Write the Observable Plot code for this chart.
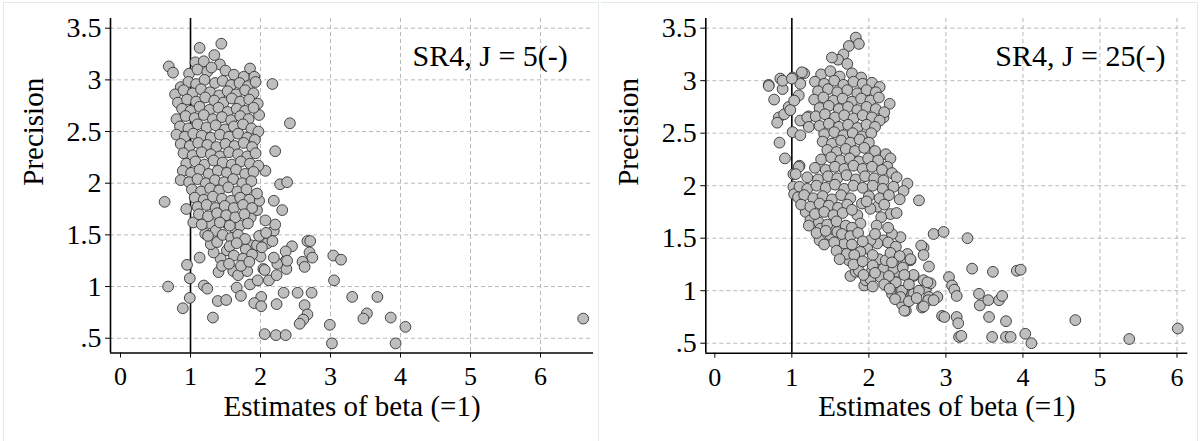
<!DOCTYPE html>
<html><head><meta charset="utf-8">
<script src="https://cdn.jsdelivr.net/npm/d3@7"></script>
<script src="https://cdn.jsdelivr.net/npm/@observablehq/plot@0.6"></script>
<style>
body{margin:0;background:#fff;}
#wrap{position:relative;width:1203px;height:441px;overflow:hidden;background:#fff;}
.panel{position:absolute;top:0;}
.panel svg, .panel svg text, .panel svg g{font-family:'Liberation Serif','Times New Roman',Times,serif !important;}
.border{position:absolute;border:1px solid #e3eaed;border-bottom:none;}
</style></head><body><div id="wrap"></div>
<script>
const yTicks = [0.5, 1, 1.5, 2, 2.5, 3, 3.5];
const yTickLabels = [".5", "1", "1.5", "2", "2.5", "3", "3.5"];
const xTicks = [0, 1, 2, 3, 4, 5, 6];
const xTickLabels = ["0", "1", "2", "3", "4", "5", "6"];
const xGridValues = [2, 3, 4, 5, 6];
const panelTitles = ["SR4, J = 5(-)", "SR4, J = 25(-)"];
const xLabel = "Estimates of beta (=1)";
const yLabel = "Precision";
const trueBeta = 1;

// [estimate of beta, precision]
const sr4J5 = [
[0.69,3.13],[0.75,3.07],[1.13,3.31],[1.44,3.35],[1.07,3.17],[1.19,3.18],[1.34,3.24],[1.42,3.15],[1.85,3.11],[1.91,3.03],[2.17,2.96],[2.42,2.58],[2.21,2.31],[2.07,2.12],[2.28,1.99],[2.38,2.01],[1.98,2.66],
[0.63,1.82],[0.94,1.75],[1.04,1.62],[1.13,1.28],[0.95,1.21],[0.99,1.08],[0.68,1.0],[1.19,1.01],[1.24,0.98],[0.99,0.89],[0.89,0.79],[1.32,0.70],[1.40,1.14],[1.39,0.86],[1.51,0.87],[1.66,0.99],[1.72,0.91],[1.61,1.15],[1.68,1.11],[1.81,1.15],[1.85,1.02],[2.01,0.90],[1.91,0.84],[2.01,0.81],[1.96,1.06],[2.04,1.17],[2.12,1.06],[2.23,1.11],[2.23,0.83],[2.33,0.94],[2.36,1.25],[2.37,1.17],[2.24,1.22],[2.06,0.54],[2.22,0.53],[2.36,0.53],[2.53,0.94],[2.73,0.94],[2.63,0.82],[2.67,0.73],[2.61,0.68],[2.56,0.64],[2.99,0.63],[3.02,0.45],[3.05,1.06],[3.04,1.30],[3.15,1.26],[2.67,1.44],[2.71,1.44],[2.70,1.33],[2.74,1.28],[2.60,1.24],[2.63,1.19],[2.45,1.39],[2.36,1.34],[2.38,1.25],[2.31,1.74],[2.19,1.83],[3.31,0.90],[3.67,0.90],[3.52,0.74],[3.47,0.69],[3.86,0.70],[4.07,0.61],[3.93,0.45],[6.61,0.69],
[2.19,1.54],[2.21,1.60],[2.07,1.64],[2.19,1.28],[1.86,1.40],[1.79,1.36],[2.00,1.29],[2.10,1.42],[2.17,1.44],[1.95,1.40],[2.06,1.16],[1.52,1.35],[1.43,1.27],[1.33,1.33],[1.29,1.41],[1.38,1.43],[1.21,1.51],[1.29,1.61],[1.36,1.54],[1.52,1.61],[1.62,1.57],[1.71,1.59],[1.86,1.67],[1.95,1.74],[1.98,1.83],[1.95,1.90],
[0.98,3.06],[1.10,3.10],[1.24,3.08],[1.30,3.12],[1.50,3.09],[1.62,3.05],[1.76,3.03],
[0.86,2.93],[0.97,2.98],[1.08,2.96],[1.20,3.00],[1.35,2.97],[1.46,2.99],[1.58,2.95],[1.70,2.97],[1.82,2.94],[1.93,2.98],
[0.78,2.86],[0.90,2.90],[1.03,2.87],[1.15,2.91],[1.28,2.88],[1.41,2.85],[1.53,2.89],[1.65,2.86],[1.78,2.90],[1.90,2.87],
[0.82,2.78],[0.95,2.81],[1.08,2.79],[1.21,2.83],[1.34,2.80],[1.47,2.78],[1.59,2.82],[1.71,2.79],[1.84,2.81],[1.96,2.77],
[0.88,2.72],[1.00,2.70],[1.13,2.74],[1.27,2.71],[1.40,2.73],[1.53,2.69],[1.66,2.72],[1.78,2.70],[1.90,2.73],
[0.80,2.62],[0.93,2.65],[1.06,2.63],[1.19,2.66],[1.32,2.62],[1.45,2.64],[1.58,2.61],[1.71,2.65],[1.83,2.62],
[0.85,2.55],[0.97,2.53],[1.10,2.57],[1.23,2.54],[1.36,2.56],[1.49,2.52],[1.62,2.55],[1.75,2.57],[1.87,2.53],[1.97,2.50],
[0.80,2.47],[0.92,2.45],[1.04,2.48],[1.16,2.46],[1.29,2.44],[1.42,2.47],[1.55,2.45],[1.68,2.48],[1.81,2.44],[1.92,2.42],
[0.86,2.38],[0.99,2.36],[1.11,2.39],[1.24,2.37],[1.37,2.35],[1.50,2.38],[1.63,2.36],[1.76,2.39],[1.88,2.35],
[0.90,2.29],[1.03,2.27],[1.16,2.30],[1.29,2.28],[1.42,2.26],[1.55,2.30],[1.68,2.28],[1.81,2.26],[1.93,2.29],
[0.94,2.19],[1.07,2.21],[1.20,2.18],[1.33,2.22],[1.46,2.20],[1.59,2.18],[1.72,2.21],[1.85,2.19],[1.97,2.17],
[0.89,2.12],[1.01,2.10],[1.13,2.13],[1.26,2.09],[1.39,2.12],[1.52,2.10],[1.65,2.13],[1.78,2.09],[1.90,2.11],
[0.86,2.03],[0.98,2.01],[1.10,2.04],[1.22,2.00],[1.35,2.03],[1.48,2.01],[1.61,2.04],[1.74,2.00],[1.87,2.02],
[1.02,1.94],[1.15,1.92],[1.28,1.95],[1.41,1.93],[1.54,1.96],[1.67,1.92],[1.80,1.94],
[1.06,1.86],[1.19,1.84],[1.32,1.87],[1.45,1.85],[1.58,1.83],[1.71,1.86],[1.84,1.84],
[1.10,1.77],[1.23,1.79],[1.36,1.76],[1.49,1.78],[1.62,1.76],[1.75,1.79],[1.88,1.76],
[1.12,1.70],[1.25,1.68],[1.38,1.71],[1.51,1.69],[1.64,1.67],[1.77,1.70],
[1.16,1.60],[1.42,1.62],[1.56,1.59],[1.82,1.61],
[1.25,1.49],[1.46,1.50],[1.58,1.47],[1.68,1.50],[1.78,1.46],[1.98,1.49],[2.08,1.52],
[1.56,1.39],[1.66,1.42],[2.02,1.38],
[1.62,1.30],[1.75,1.27],[1.88,1.31],[1.45,1.20],[1.55,1.22],[1.72,1.20],[1.84,1.24]
];

const sr4J25 = [
[1.83,3.41],[1.87,3.35],[1.74,3.33],[1.67,3.25],[1.60,3.20],[1.52,3.22],[1.72,3.16],
[0.70,2.96],[0.85,3.02],[0.88,2.92],[1.01,3.03],[1.11,2.97],[1.16,3.07],[0.77,2.82],[0.83,2.65],[0.81,2.60],[0.90,2.68],[0.96,2.75],[1.01,2.51],[0.84,2.41],[0.91,2.26],[1.11,2.48],[1.16,2.62],[1.22,2.66],[1.10,2.19],[1.02,2.11],[1.02,1.99],[2.27,2.78],[2.19,2.65],[2.22,2.30],[2.28,2.26],[2.24,2.18],[2.50,2.02],[2.45,1.95],[2.65,1.86],
[0.70,2.95],[0.88,3.00],[1.00,3.02],[1.13,3.08],[1.09,2.86],[1.03,2.81],[0.98,2.72],[1.11,2.62],[1.20,2.65],[1.22,2.56],[1.09,2.18],[1.05,2.11],
[1.03,1.92],[1.18,1.75],[1.24,1.67],[1.35,1.65],[1.37,1.59],[1.36,1.48],[1.50,1.53],[1.52,1.59],[1.59,1.56],[1.68,1.45],[1.68,1.32],[1.74,1.29],[1.71,1.35],[1.76,1.14],[1.83,1.18],[1.87,1.19],[1.94,1.05],[1.96,1.10],[2.02,1.11],[2.04,1.19],[2.13,1.30],[2.19,1.21],[2.15,1.13],[2.22,1.29],[2.30,0.97],[2.41,1.00],[2.43,0.87],[2.48,0.81],[2.37,1.18],[2.35,1.08],[2.32,1.21],[2.56,0.97],[2.58,1.14],[2.69,0.84],[2.74,1.02],[2.78,0.94],[2.71,1.10],[2.80,1.07],[2.89,0.94],[2.84,1.54],[2.97,1.56],[3.04,1.13],[3.08,1.05],[2.95,0.76],[3.14,0.75],[3.17,0.56],[2.41,1.51],[2.30,1.54],[2.19,1.48],[2.11,1.45],[2.54,1.29],[2.45,1.26],[2.50,1.35],[2.71,1.41],[2.78,1.23],[2.28,1.73],[2.11,1.80],[2.02,1.78],[1.91,1.83],[1.85,1.72],[1.89,1.64],[2.02,1.48],[1.98,1.40],[1.89,1.37],[1.81,1.34],
[3.28,1.50],[3.34,1.21],[3.61,1.18],[3.92,1.19],[3.97,1.20],[3.11,1.01],[3.14,0.95],[3.43,0.97],[3.44,0.86],[3.55,0.91],[3.69,0.91],[3.73,0.95],[2.98,0.75],[3.16,0.69],[3.56,0.75],[3.78,0.71],[3.20,0.57],[3.60,0.56],[3.78,0.56],[3.84,0.56],[4.03,0.59],[4.11,0.50],[4.68,0.72],[5.38,0.54],[6.01,0.64],
[2.58,1.15],[2.68,1.43],[2.71,1.34],[2.54,1.30],[2.76,1.08],[2.77,0.91],[2.84,0.91],[2.71,0.85],[2.58,0.97],[2.46,0.81],[2.43,1.00],[2.41,0.94],
[1.38,3.06],[1.50,3.09],[1.62,3.04],[1.78,3.07],[1.90,3.03],
[1.30,2.99],[1.42,2.97],[1.55,3.00],[1.67,2.96],[1.80,2.99],[1.92,2.97],[2.04,2.98],[2.14,2.94],
[1.34,2.90],[1.47,2.92],[1.59,2.89],[1.72,2.91],[1.85,2.88],[1.97,2.91],[2.09,2.89],
[1.29,2.82],[1.41,2.84],[1.54,2.81],[1.66,2.83],[1.78,2.80],[1.90,2.83],[2.02,2.81],[2.13,2.84],
[1.36,2.74],[1.48,2.76],[1.61,2.73],[1.73,2.75],[1.85,2.72],[1.97,2.75],[2.09,2.73],[2.20,2.70],
[1.31,2.66],[1.43,2.68],[1.56,2.65],[1.68,2.67],[1.80,2.64],[1.92,2.67],[2.04,2.65],[2.14,2.62],
[1.36,2.57],[1.48,2.59],[1.61,2.56],[1.73,2.58],[1.85,2.55],[1.97,2.58],[2.08,2.56],
[1.42,2.49],[1.55,2.51],[1.67,2.48],[1.79,2.50],[1.91,2.47],[2.03,2.50],
[1.40,2.42],[1.52,2.40],[1.64,2.43],[1.76,2.41],[1.88,2.44],[2.00,2.41],
[1.46,2.34],[1.58,2.32],[1.70,2.35],[1.82,2.33],[1.94,2.36],[2.08,2.33],
[1.38,2.25],[1.51,2.27],[1.63,2.24],[1.75,2.26],[1.87,2.23],[1.99,2.26],[2.12,2.24],
[1.30,2.17],[1.44,2.15],[1.56,2.18],[1.68,2.16],[1.80,2.19],[1.92,2.16],[2.04,2.18],[2.17,2.15],[2.30,2.12],
[1.20,2.08],[1.34,2.06],[1.47,2.09],[1.59,2.07],[1.71,2.10],[1.83,2.06],[1.95,2.09],[2.07,2.07],[2.19,2.05],[2.36,2.08],
[1.10,1.99],[1.20,1.97],[1.32,2.00],[1.44,1.98],[1.56,2.01],[1.68,1.97],[1.80,2.00],[1.92,1.98],[2.05,2.00],[2.18,1.97],[2.32,1.99],
[1.08,1.89],[1.16,1.91],[1.28,1.88],[1.40,1.90],[1.52,1.87],[1.64,1.91],[1.76,1.88],[2.00,1.90],[2.14,1.88],[2.26,1.91],[2.40,1.87],
[1.12,1.82],[1.24,1.80],[1.36,1.83],[1.48,1.81],[1.60,1.79],[1.72,1.82],[1.97,1.85],[2.20,1.82],
[1.30,1.73],[1.42,1.75],[1.54,1.72],[1.66,1.74],[1.78,1.77],[2.16,1.70],[2.36,1.74],
[1.22,1.62],[1.46,1.63],[1.58,1.66],[1.70,1.62],[1.78,1.60],[2.10,1.62],[2.25,1.60],
[1.32,1.55],[1.44,1.57],[1.65,1.54],[1.76,1.52],[1.86,1.55],[2.08,1.54],
[1.42,1.44],[1.55,1.46],[1.78,1.44],[1.92,1.47],[2.25,1.46],[2.35,1.42],
[1.58,1.38],[1.62,1.30],[2.05,1.34],[2.28,1.36],[2.40,1.33],
[1.80,1.25],[1.92,1.28],[2.05,1.24],[2.30,1.27],[2.44,1.22],
[1.93,1.15],[2.08,1.17],[2.26,1.14],[2.46,1.15],
[2.05,1.04],[2.20,1.06],[2.27,1.02],[2.52,1.06],[2.65,1.00],
[2.34,0.92],[2.52,0.90],[2.62,0.93]
];

const serif = "'Liberation Serif','Times New Roman',Times,serif";

function panel(data, o) {
  const gridStyle = {stroke: "#b9b9b9", strokeOpacity: 1, strokeWidth: 1, strokeDasharray: "4,3"};
  return Plot.plot({
    width: o.width, height: 441,
    marginLeft: o.marginLeft, marginRight: o.marginRight, marginTop: 18, marginBottom: o.marginBottom,
    x: {domain: o.xDomain},
    y: {domain: o.yDomain},
    style: {fontFamily: serif, background: "transparent", color: "#000", overflow: "visible"},
    marks: [
      Plot.gridY(yTicks, gridStyle),
      Plot.gridX(xGridValues, gridStyle),
      Plot.ruleX([trueBeta], {stroke: "#000", strokeWidth: 1.6}),
      Plot.dot(data, {x: d => d[0], y: d => d[1], r: 5.4, fill: "#bebebe", stroke: "#333", strokeWidth: 0.9}),
      Plot.ruleX([o.xDomain[0]], {stroke: "#000", strokeWidth: 1.6}),
      Plot.ruleY([o.yDomain[0]], {stroke: "#000", strokeWidth: 1.6}),
      Plot.axisY({ticks: yTicks, tickFormat: d => yTickLabels[yTicks.indexOf(d)], tickSize: 5, tickPadding: 4, fontSize: 28, fontFamily: serif, label: null}),
      Plot.axisX({ticks: xTicks, tickFormat: d => xTickLabels[xTicks.indexOf(d)], tickSize: 5, tickPadding: 9, fontSize: 26, fontFamily: serif, label: null}),
      Plot.text([o.title], {x: o.titleX, y: o.titleY, text: d => d, textAnchor: "end", fontSize: 30, fontFamily: serif}),
      Plot.text([xLabel], {frameAnchor: "bottom", text: d => d, dy: 63, fontSize: 29, fontFamily: serif}),
      Plot.text([yLabel], {frameAnchor: "left", text: d => d, rotate: -90, dx: -77, fontSize: 29, fontFamily: serif})
    ]
  });
}

const wrap = document.getElementById("wrap");

const left = document.createElement("div");
left.className = "panel"; left.style.left = "0px";
left.appendChild(panel(sr4J5, {
  width: 600, marginLeft: 110, marginRight: 7, marginBottom: 88.5,
  xDomain: [-0.143, 6.757], yDomain: [0.357, 3.594],
  title: panelTitles[0], titleX: 6.39, titleY: 3.23
}));
wrap.appendChild(left);

const right = document.createElement("div");
right.className = "panel"; right.style.left = "600px";
right.appendChild(panel(sr4J25, {
  width: 603, marginLeft: 105.3, marginRight: 15.7, marginBottom: 88.3,
  xDomain: [-0.117, 6.14], yDomain: [0.405, 3.592],
  title: panelTitles[1], titleX: 5.85, titleY: 3.23
}));
wrap.appendChild(right);

const b1 = document.createElement("div");
b1.className = "border";
Object.assign(b1.style, {left: "3px", top: "2px", width: "594px", height: "460px"});
wrap.appendChild(b1);
const b2 = document.createElement("div");
b2.className = "border";
Object.assign(b2.style, {left: "601px", top: "2px", width: "596px", height: "460px", borderLeft: "none"});
wrap.appendChild(b2);
</script>
</body></html>
